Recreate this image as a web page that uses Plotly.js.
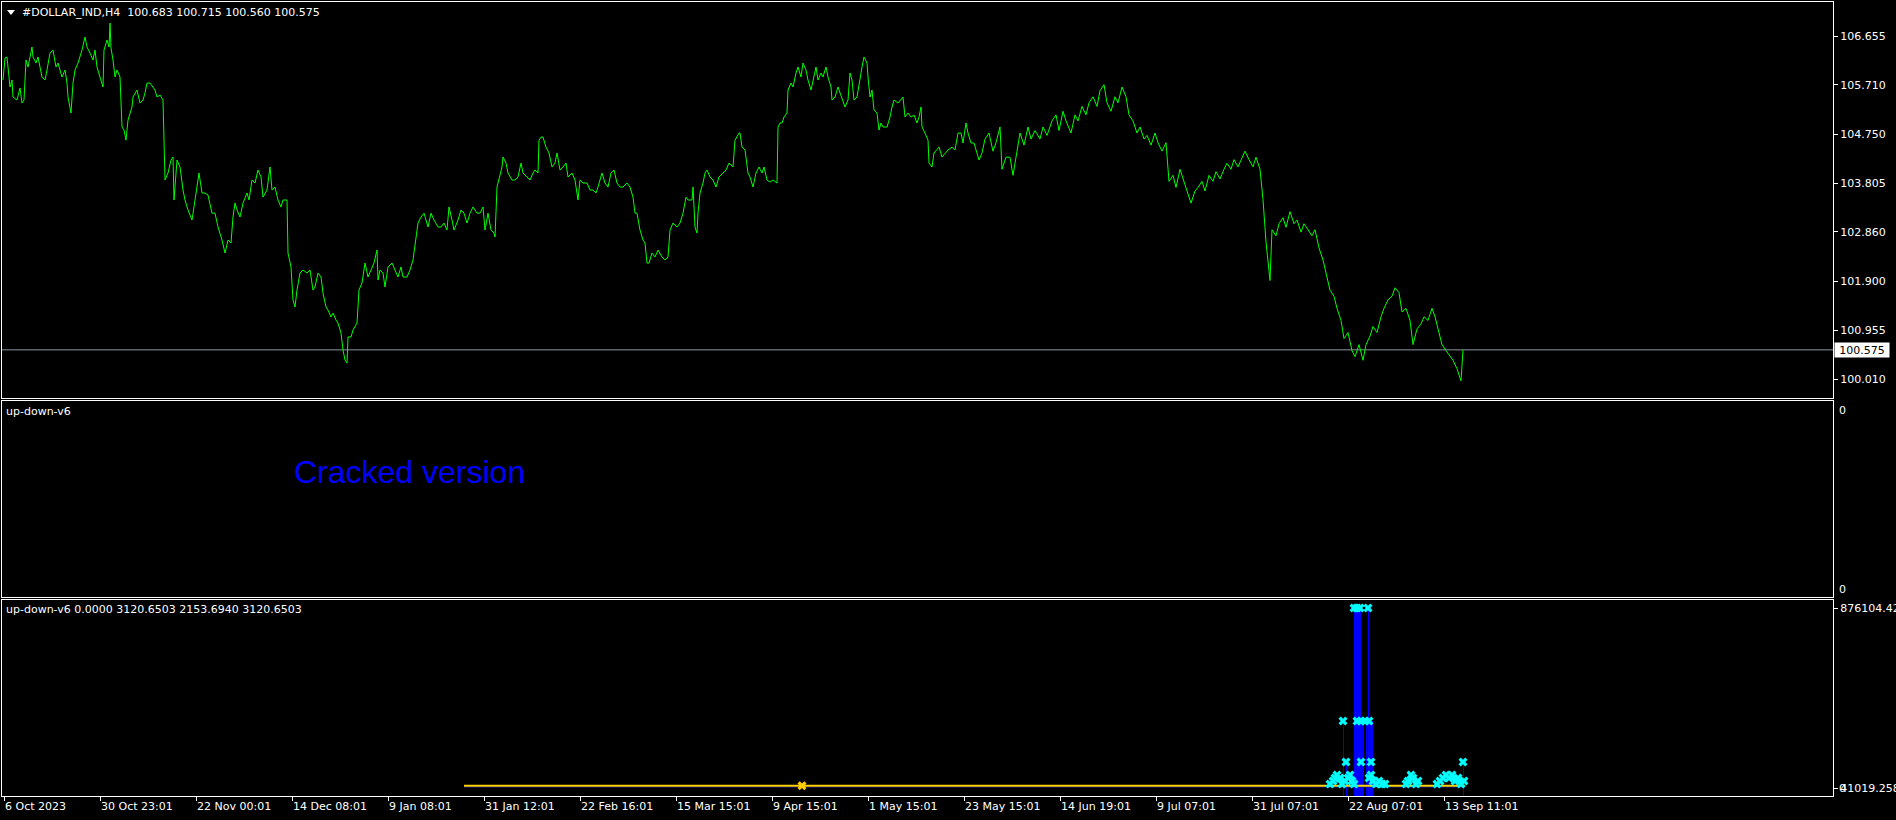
<!DOCTYPE html>
<html><head><meta charset="utf-8">
<script src="https://cdn.plot.ly/plotly-3.0.1.min.js"></script>
<style>html,body{margin:0;padding:0;background:#000;overflow:hidden}#chart{width:1896px;height:820px}</style>
</head><body><div id="chart"></div>
<script>
// ---- price series (H4 closes, by bar number) ----
const barIndex = [3,5,7,8,10,12,13,17,20,22,24,26,28,32,33,36,38,42,45,47,50,53,56,58,62,65,67,68,71,73,75,78,82,85,87,90,93,95,97,100,103,104,107,109,110,111,113,115,117,120,122,124,126,128,132,133,137,140,143,145,147,150,153,155,157,160,163,164,165,168,171,173,174,177,180,183,185,188,192,195,199,202,205,208,212,215,218,222,225,228,231,233,235,237,240,243,247,249,
252,255,258,261,263,267,270,272,275,278,281,283,287,288,291,293,295,297,300,303,307,310,313,315,318,321,323,326,328,331,333,336,338,341,343,345,347,348,351,353,357,359,362,365,368,371,374,377,378,380,383,385,388,392,395,398,401,403,407,410,413,416,418,421,424,428,431,434,438,441,444,447,449,452,454,458,461,464,467,470,473,477,480,483,485,488,491,494,
495,497,499,502,503,506,508,512,515,518,521,523,527,530,533,535,538,539,541,543,546,549,552,555,557,560,563,566,568,572,575,578,580,583,587,590,593,596,598,602,605,608,611,614,617,620,623,627,630,633,635,637,640,643,645,647,649,652,655,658,662,665,668,670,673,677,680,683,686,688,692,693,695,697,698,700,703,705,707,710,713,716,719,723,726,729,733,735,737,739,
740,742,745,748,750,753,756,759,762,764,767,770,773,777,778,780,782,784,787,788,791,793,796,798,801,803,806,808,811,813,816,818,821,823,826,828,831,832,835,838,840,842,845,848,850,852,854,857,859,862,864,867,868,870,872,874,877,879,881,883,887,890,892,894,898,901,903,905,908,911,914,917,919,921,922,925,928,929,932,934,937,939,942,945,948,952,955,958,961,963,966,968,971,974,977,979,982,984,
985,989,993,996,1000,1002,1006,1010,1013,1017,1020,1024,1028,1031,1035,1040,1043,1047,1052,1056,1059,1063,1066,1071,1075,1078,1082,1086,1089,1093,1097,1100,1104,1107,1111,1115,1118,1122,1126,1129,1133,1137,1140,1144,1147,1151,1155,1158,1162,1166,1169,1173,1176,1180,1184,1187,1191,1195,1198,1202,1205,1209,1213,1216,1220,1224,1227,1231,1234,1238,1242,1245,1249,1253,1256,1260,
1263,1266,1270,1272,1276,1279,1283,1286,1290,1294,1297,1301,1304,1308,1312,1315,1319,1323,1326,1330,1334,1337,1341,1344,1348,1352,1355,1359,1363,1366,1370,1373,1377,1381,1384,1388,1392,1395,1399,1402,1406,1410,1413,1417,1421,1424,1428,1432,1435,1439,1442,1446,1450,1453,1457,1461,1463];
const closePrice = [105.802,106.228,106.248,105.996,105.667,105.802,105.473,105.415,105.647,105.357,105.415,106.190,106.054,106.441,106.248,106.132,106.248,105.860,105.802,105.996,106.325,106.383,106.054,106.132,105.860,105.996,105.744,105.473,105.163,105.744,105.996,106.132,106.383,106.635,106.441,106.325,106.190,106.383,106.054,105.860,105.667,106.383,106.577,106.441,106.906,106.422,106.190,105.860,105.996,105.860,104.892,104.834,104.637,105.027,105.279,105.473,105.609,105.357,105.415,105.550,105.744,105.744,105.647,105.609,105.473,105.512,105.415,104.446,103.865,104.001,104.252,104.311,103.478,104.252,104.117,103.671,103.478,103.285,103.090,103.478,104.001,103.613,103.613,103.574,103.223,103.223,102.955,102.703,102.450,102.703,102.645,103.148,103.420,103.285,103.148,103.420,103.613,103.478,
103.865,103.807,104.059,103.924,103.533,103.671,104.117,103.671,103.729,103.478,103.343,103.478,103.478,102.450,102.180,101.540,101.405,101.734,102.063,102.122,102.063,102.122,101.734,101.792,102.063,101.986,101.676,101.405,101.347,101.211,101.288,101.153,101.094,100.901,100.572,100.378,100.320,100.824,100.824,100.959,101.094,101.734,101.870,102.257,101.986,102.122,102.257,102.509,101.928,102.122,102.063,101.792,102.180,102.257,102.122,101.986,102.180,101.986,101.986,102.122,102.315,102.703,103.032,103.148,103.223,102.955,103.223,103.090,102.955,102.955,103.032,102.896,103.343,103.090,102.896,103.090,103.285,103.223,103.032,103.223,103.343,103.223,103.223,103.343,102.896,103.223,102.896,102.838,
102.761,103.729,103.865,104.117,104.311,104.194,104.001,103.865,103.865,103.924,104.194,104.001,103.924,103.865,104.001,104.059,104.001,104.637,104.698,104.698,104.502,104.388,104.117,104.194,104.388,104.059,104.117,104.194,103.924,104.001,103.865,103.478,103.865,103.807,103.807,103.671,103.671,103.613,103.729,104.001,103.807,103.729,104.001,104.059,103.807,103.729,103.729,103.807,103.729,103.533,103.223,103.223,102.896,102.703,102.645,102.257,102.257,102.450,102.373,102.509,102.373,102.315,102.373,102.896,103.032,102.955,103.032,103.223,103.533,103.478,103.478,103.729,102.955,102.838,103.223,103.613,103.807,104.001,104.059,103.924,103.865,103.729,103.924,104.001,104.059,104.194,104.117,104.637,104.698,104.775,
104.775,104.502,104.446,104.001,103.924,103.729,104.001,104.117,104.001,104.117,103.865,103.826,103.865,103.807,104.892,104.969,104.969,105.085,105.163,105.609,105.744,105.667,105.938,106.054,105.860,106.132,105.996,105.802,105.609,105.802,106.054,105.802,105.938,105.860,106.054,105.860,105.667,105.415,105.473,105.667,105.550,105.415,105.279,105.415,105.938,105.802,105.415,105.473,105.744,106.054,106.248,106.132,105.860,105.473,105.609,105.221,105.163,104.834,104.969,104.892,104.892,105.085,105.279,105.415,105.357,105.415,105.473,105.085,105.163,105.085,105.124,104.969,105.085,105.279,104.892,104.775,104.637,104.194,104.117,104.388,104.446,104.502,104.311,104.388,104.446,104.502,104.446,104.775,104.775,104.582,104.969,104.775,104.582,104.582,104.388,104.252,104.388,104.582,
104.659,104.776,104.424,104.588,104.893,104.073,104.307,104.307,103.956,104.424,104.776,104.541,104.893,104.659,104.823,104.659,104.893,104.729,105.010,105.127,104.823,105.197,105.010,104.776,105.127,105.010,105.291,105.127,105.361,105.478,105.291,105.595,105.713,105.361,105.197,105.478,105.361,105.666,105.478,105.127,105.010,104.776,104.893,104.659,104.729,104.541,104.776,104.588,104.424,104.588,103.839,103.956,103.722,104.073,103.839,103.652,103.417,103.652,103.722,103.839,103.652,103.956,103.839,104.026,103.886,104.073,104.190,104.073,104.260,104.120,104.307,104.424,104.260,104.120,104.307,104.073,
103.487,102.668,101.918,102.902,102.785,103.019,103.136,102.949,103.253,103.019,103.089,102.855,103.019,102.902,102.785,102.902,102.551,102.316,102.082,101.731,101.614,101.380,101.145,100.794,100.911,100.560,100.443,100.677,100.373,100.677,100.841,101.028,100.911,101.216,101.380,101.544,101.614,101.778,101.684,101.309,101.380,101.145,100.677,100.981,101.075,101.216,101.145,101.380,101.216,100.911,100.677,100.560,100.443,100.373,100.209,99.974,100.575];
const lastPrice = 100.575;
const priceTicks = [106.655,105.710,104.750,103.805,102.860,101.900,100.955,100.010];

// ---- time axis ----
const timeTickBars = [4,100,196,292,388,484,580,676,772,868,964,1060,1156,1252,1348,1444];
const timeTickLabels = ["6 Oct 2023","30 Oct 23:01","22 Nov 00:01","14 Dec 08:01","9 Jan 08:01","31 Jan 12:01","22 Feb 16:01","15 Mar 15:01","9 Apr 15:01","1 May 15:01","23 May 15:01","14 Jun 19:01","9 Jul 07:01","31 Jul 07:01","22 Aug 07:01","13 Sep 11:01"];

// ---- up-down-v6 indicator (bottom window) ----
const subMax = 876104.42, subMin = 41019.258;
const signalBars = [464,1465];
const signalLevel = [51700,51700];
const baseLevel = [45600,45600];
const signalMarkBars = [802];
const signalMarkVals = [51700];
const histBars = [1343,1346,1354,1355,1356,1357,1358,1359,1360,1361,1362,1363,1366,1368,1369,1370,1371,1372,1463];
const histVals = [351860,161640,876104,876104,876104,876104,876104,876104,876104,351860,351860,351860,351860,876104,351860,351860,351860,351860,161640];
const crossBars = [1354,1357,1360,1368, 1343,1357,1361,1365,1369, 1346,1361,1371,1463,
  1330,1333,1335,1337,1340,1342,1345,1348,1350,1352,1354,1369,1371,1373,1376,1379,1382,1385,1406,1408,1411,1413,1416,1418,1437,1440,1443,1446,1449,1452,1455,1458,1461,1464];
const crossVals = [876104,876104,876104,876104, 351860,351860,351860,351860,351860, 161640,161640,161640,161640,
  59580,73500,87410,101330,87410,59580,73500,87410,101330,73500,59580,87410,101330,73500,59580,73500,59580,59580,59580,73500,101330,87410,59580,73500,59580,73500,87410,101330,87410,101330,73500,87410,59580,73500];

// ---- page geometry ----
const W = 1896, H = 820, L = 2, R = 63, T = 2, B = 24;
const plotW = W - L - R, plotH = H - T - B;
const px = p => (p - L) / plotW;
const py = p => (H - B - p) / plotH;
const FONT = 'DejaVu Sans';
const white = '#ffffff';

const traces = [
  {type:'scatter', mode:'lines', x:barIndex, y:closePrice, xaxis:'x', yaxis:'y',
   line:{color:'#00ff00', width:1}, hoverinfo:'skip'},
  {type:'scatter', mode:'lines', x:[], y:[], xaxis:'x2', yaxis:'y2', hoverinfo:'skip'},
  {type:'scatter', mode:'lines', x:signalBars, y:baseLevel, xaxis:'x3', yaxis:'y3',
   line:{color:'#1a1aa0', width:1}, hoverinfo:'skip'},
  {type:'scatter', mode:'lines', x:signalBars, y:signalLevel, xaxis:'x3', yaxis:'y3',
   line:{color:'#ffd200', width:2}, hoverinfo:'skip'},
  {type:'bar', x:histBars, y:histVals, width:1, xaxis:'x3', yaxis:'y3',
   marker:{color:'#0000ff', line:{width:0}}, hoverinfo:'skip'},
  {type:'scatter', mode:'markers', x:signalMarkBars, y:signalMarkVals, xaxis:'x3', yaxis:'y3',
   marker:{symbol:'x', size:8, color:'#ffcc00', line:{width:0}}, hoverinfo:'skip'},
  {type:'scatter', mode:'markers', x:crossBars, y:crossVals, xaxis:'x3', yaxis:'y3',
   marker:{symbol:'x', size:8, color:'#00ffff', line:{width:0}}, hoverinfo:'skip'}
];

const xbase = {range:[L, W - R], showgrid:false, zeroline:false, showline:true, mirror:true,
  linecolor:white, linewidth:1, fixedrange:true};
const ybase = {side:'right', showgrid:false, zeroline:false, showline:true, mirror:true,
  linecolor:white, linewidth:1, fixedrange:true, tickfont:{family:FONT, size:11, color:white}};

const layout = {
  width:W, height:H, margin:{l:L, r:R, t:T, b:B, pad:0},
  paper_bgcolor:'#000000', plot_bgcolor:'#000000', showlegend:false,
  font:{family:FONT, size:11, color:white},
  xaxis: Object.assign({}, xbase, {anchor:'y', showticklabels:false, ticks:''}),
  xaxis2: Object.assign({}, xbase, {anchor:'y2', showticklabels:false, ticks:''}),
  xaxis3: Object.assign({}, xbase, {anchor:'y3', tickmode:'array', tickvals:timeTickBars, ticktext:timeTickLabels,
     ticks:'outside', ticklen:4, tickcolor:white, ticklabelposition:'outside right',
     tickfont:{family:FONT, size:11, color:white}}),
  yaxis: Object.assign({}, ybase, {anchor:'x', domain:[py(398), 1], range:[99.6422, 107.3137],
     tickmode:'array', tickvals:priceTicks, ticktext:priceTicks.map(v=>v.toFixed(3)),
     ticks:'outside', ticklen:4, tickcolor:white}),
  yaxis2: Object.assign({}, ybase, {anchor:'x2', domain:[py(597), py(401)], range:[0,1], showticklabels:false, ticks:''}),
  yaxis3: Object.assign({}, ybase, {anchor:'x3', domain:[0, py(600)], range:[3904, 913219],
     tickmode:'array', tickvals:[subMax, subMin], ticktext:['876104.42','41019.258'],
     ticks:'outside', ticklen:4, tickcolor:white}),
  bargap:0,
  shapes:[
    {type:'line', xref:'x', yref:'y', x0:L, x1:W-R, y0:lastPrice, y1:lastPrice,
     line:{color:'#8a96a6', width:1}, layer:'below'},
    {type:'path', xref:'paper', yref:'paper',
     path:`M ${px(7)},${py(10)} L ${px(15)},${py(10)} L ${px(11)},${py(15)} Z`,
     fillcolor:white, line:{width:0}}
  ],
  annotations:[
    {xref:'paper', yref:'paper', x:px(20), y:py(12.5), xanchor:'left', yanchor:'middle', showarrow:false,
     text:'#DOLLAR_IND,H4\u00a0 100.683 100.715 100.560 100.575', font:{family:FONT, size:11, color:white}},
    {xref:'paper', yref:'y', x:1, y:lastPrice, xanchor:'left', yanchor:'middle', xshift:1, showarrow:false,
     text:lastPrice.toFixed(3), bgcolor:white, borderpad:1, width:52, height:12,
     font:{family:FONT, size:11, color:'#000000'}},
    {xref:'paper', yref:'paper', x:px(4), y:py(411), xanchor:'left', yanchor:'middle', showarrow:false,
     text:'up-down-v6', font:{family:FONT, size:11, color:white}},
    {xref:'paper', yref:'paper', x:px(292), y:py(472), xanchor:'left', yanchor:'middle', showarrow:false,
     text:'Cracked version', font:{family:'Liberation Sans', size:32, color:'#0000ff'}},
    {xref:'paper', yref:'paper', x:1, y:py(410), xanchor:'left', yanchor:'middle', xshift:4, showarrow:false,
     text:'0', font:{family:FONT, size:11, color:white}},
    {xref:'paper', yref:'paper', x:1, y:py(589), xanchor:'left', yanchor:'middle', xshift:4, showarrow:false,
     text:'0', font:{family:FONT, size:11, color:white}},
    {xref:'paper', yref:'paper', x:px(4), y:py(609), xanchor:'left', yanchor:'middle', showarrow:false,
     text:'up-down-v6 0.0000 3120.6503 2153.6940 3120.6503', font:{family:FONT, size:11, color:white}},
    {xref:'paper', yref:'y3', x:1, y:subMin, xanchor:'left', yanchor:'middle', xshift:4, showarrow:false,
     text:'0', font:{family:FONT, size:11, color:white}}
  ]
};

Plotly.newPlot('chart', traces, layout, {staticPlot:true, displayModeBar:false});
</script>
</body></html>
